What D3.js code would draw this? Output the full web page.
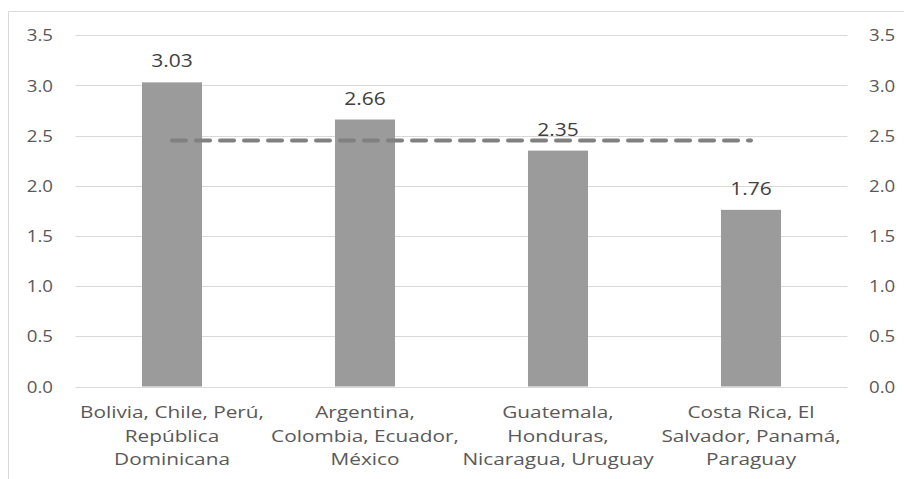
<!DOCTYPE html>
<html>
<head>
<meta charset="utf-8">
<script src="https://cdn.jsdelivr.net/npm/d3@7"></script>
<style>
  html, body { margin: 0; padding: 0; background: #ffffff; }
  svg { display: block; }
  text { font-family: "Open Sans", "Liberation Sans", sans-serif; }
</style>
</head>
<body>
<svg id="chart" width="904" height="479"></svg>
<script>
// ---- data ----
const categories = [
  ["Bolivia, Chile, Perú,", "República", "Dominicana"],
  ["Argentina,", "Colombia, Ecuador,", "México"],
  ["Guatemala,", "Honduras,", "Nicaragua, Uruguay"],
  ["Costa Rica, El", "Salvador, Panamá,", "Paraguay"]
];
const categoryKeys = ["G1", "G2", "G3", "G4"];
const values = [3.03, 2.66, 2.35, 1.76];
const averageValues = [2.45, 2.45, 2.45, 2.45];
const valueLabels = ["3.03", "2.66", "2.35", "1.76"];
const yTicks = [0, 0.5, 1.0, 1.5, 2.0, 2.5, 3.0, 3.5];

// ---- layout ----
const svg = d3.select("#chart");
const W = 904, H = 479;

const x = d3.scaleBand()
  .domain(categoryKeys)
  .range([75.5, 847.5])
  .paddingInner(0.689)
  .paddingOuter(0.3445);

const y = d3.scaleLinear().domain([0, 3.5]).range([386.5, 35.2]);

// chart frame (partial border as in the cropped picture)
svg.append("path")
  .attr("d", `M8.5,${H} L8.5,11.5 L${W},11.5`)
  .attr("fill", "none")
  .attr("stroke", "#d9d9d9")
  .attr("stroke-width", 1);

// gridlines
svg.append("g").selectAll("line")
  .data(yTicks)
  .join("line")
  .attr("x1", x.range()[0])
  .attr("x2", x.range()[1])
  .attr("y1", d => Math.round(y(d)) + 0.5)
  .attr("y2", d => Math.round(y(d)) + 0.5)
  .attr("stroke", "#d9d9d9")
  .attr("stroke-width", 1);

// left tick labels
svg.append("g").selectAll("text")
  .data(yTicks)
  .join("text")
  .attr("transform", d => `translate(53,${y(d)}) scale(1.1,1)`)
  .attr("text-anchor", "end")
  .attr("dy", "0.36em")
  .attr("font-size", 17)
  .attr("fill", "#595959")
  .text(d3.format(".1f"));

// right tick labels
svg.append("g").selectAll("text")
  .data(yTicks)
  .join("text")
  .attr("transform", d => `translate(869,${y(d)}) scale(1.1,1)`)
  .attr("text-anchor", "start")
  .attr("dy", "0.36em")
  .attr("font-size", 17)
  .attr("fill", "#595959")
  .text(d3.format(".1f"));

// bars
svg.append("g").selectAll("rect")
  .data(values)
  .join("rect")
  .attr("x", (d, i) => x(categoryKeys[i]))
  .attr("width", x.bandwidth())
  .attr("y", d => y(d))
  .attr("height", d => y(0) - y(d))
  .attr("fill", "#9b9b9b");

// average dashed line
const line = d3.line()
  .x((d, i) => x(categoryKeys[i]) + x.bandwidth() / 2)
  .y(d => y(d));
svg.append("path")
  .datum(averageValues)
  .attr("d", line)
  .attr("fill", "none")
  .attr("stroke", "#808080")
  .attr("stroke-width", 4)
  .attr("stroke-linecap", "round")
  .attr("stroke-dasharray", "14,10");

// value labels
svg.append("g").selectAll("text")
  .data(values)
  .join("text")
  .attr("transform", (d, i) => `translate(${x(categoryKeys[i]) + x.bandwidth() / 2},${y(d) - 15}) scale(1.165,1)`)
  .attr("text-anchor", "middle")
  .attr("font-size", 18)
  .attr("fill", "#404040")
  .text((d, i) => valueLabels[i]);

// category labels
const catG = svg.append("g").selectAll("g")
  .data(categories)
  .join("g")
  .attr("transform", (d, i) => `translate(${x(categoryKeys[i]) + x.bandwidth() / 2},0)`);
catG.selectAll("text")
  .data(d => d)
  .join("text")
  .attr("transform", (d, j) => `translate(0,${418 + j * 23.5}) scale(1.3,1)`)
  .attr("text-anchor", "middle")
  .attr("font-size", 16)
  .attr("fill", "#595959")
  .text(d => d);
</script>
</body>
</html>
